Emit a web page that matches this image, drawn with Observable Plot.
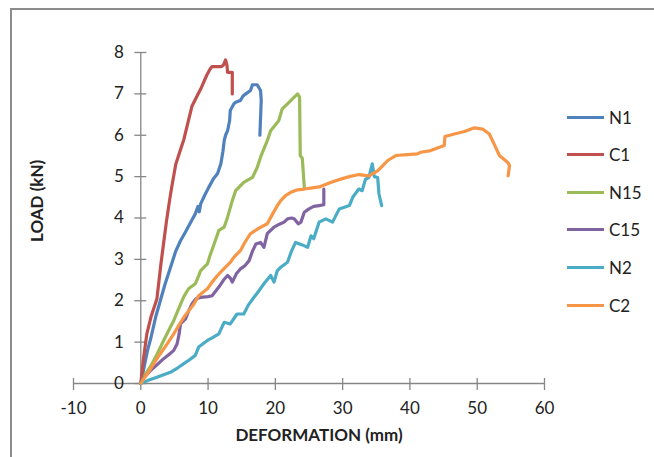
<!DOCTYPE html>
<html>
<head>
<meta charset="utf-8">
<script src="https://cdn.jsdelivr.net/npm/d3@7"></script>
<script src="https://cdn.jsdelivr.net/npm/@observablehq/plot@0.6"></script>
<style>
  html, body { margin: 0; padding: 0; background: #fff; overflow: hidden; }
  #wrap { position: relative; width: 654px; height: 457px; }
  #frame { position: absolute; left: 10px; top: 8px; width: 660px; height: 470px;
           border-left: 2px solid #8c8c8c; border-top: 2px solid #8c8c8c; pointer-events: none; }
  #legend { position: absolute; left: 567px; top: 0; font-family: Lato, sans-serif; font-size: 17px; color: #222; }
  .item { position: absolute; left: 0; display: flex; align-items: center; height: 20px; white-space: nowrap; }
  .sw { width: 37px; height: 3px; margin-right: 5px; }
</style>
</head>
<body>
<div id="wrap"><div id="chart"></div><div id="frame"></div><div id="legend"></div></div>
<script>
const xTicks = [-10, 0, 10, 20, 30, 40, 50, 60];
const yTicks = [0, 1, 2, 3, 4, 5, 6, 7, 8];
const seriesNames = ["N1", "C1", "N15", "C15", "N2", "C2"];
const seriesColors = ["#4F81BD", "#C0504D", "#9BBB59", "#8064A2", "#4BACC6", "#F79646"];

const N1 = [[0,0],[0.5,0.4],[1.0,0.8],[1.5,1.1],[2.2,1.6],[2.9,2.0],[3.6,2.4],[4.4,2.8],[5.2,3.2],[5.9,3.45],[6.6,3.65],[7.1,3.8],[7.6,3.95],[8.1,4.1],[8.5,4.28],[8.7,4.15],[8.9,4.34],[9.5,4.55],[10.1,4.74],[10.8,4.95],[11.4,5.07],[11.9,5.31],[12.2,5.6],[12.4,5.87],[12.6,6.0],[12.9,6.11],[13.2,6.35],[13.3,6.6],[13.8,6.75],[14.1,6.8],[14.8,6.84],[15.2,6.95],[15.6,7.0],[16.3,7.08],[16.6,7.22],[17.3,7.22],[17.8,7.08],[17.9,6.84],[17.7,6.0]];
const C1 = [[0,0],[0.4,0.6],[0.9,1.2],[1.5,1.6],[2.4,2.05],[3.0,2.9],[3.4,3.4],[3.8,3.9],[4.3,4.45],[4.6,4.75],[5.2,5.3],[5.8,5.6],[6.4,5.9],[7.0,6.3],[7.6,6.7],[8.4,6.96],[9.0,7.15],[9.8,7.45],[10.3,7.6],[10.6,7.66],[12.0,7.66],[12.3,7.7],[12.6,7.82],[12.8,7.7],[12.9,7.52],[13.6,7.52],[13.6,7.0]];
const N15 = [[0,0],[0.6,0.2],[1.4,0.4],[2.4,0.7],[3.4,1.04],[4.2,1.3],[4.9,1.52],[5.6,1.8],[6.4,2.1],[7.1,2.29],[8.1,2.41],[8.6,2.6],[8.9,2.73],[9.9,2.89],[10.3,3.1],[10.9,3.37],[11.6,3.7],[12.4,3.78],[12.9,4.02],[13.6,4.42],[14.1,4.66],[15.3,4.86],[16.6,4.98],[17.3,5.22],[17.8,5.47],[18.8,5.87],[19.3,6.11],[20.5,6.35],[21.0,6.63],[21.8,6.76],[22.8,6.92],[23.3,7.0],[23.6,6.92],[23.7,5.5],[24.0,5.45],[24.1,5.22],[24.3,4.74]];
const C15 = [[0,0],[0.5,0.15],[1.44,0.31],[2.4,0.45],[3.4,0.6],[4.2,0.7],[4.9,0.8],[5.4,0.96],[5.7,1.2],[5.9,1.44],[6.65,1.56],[7.1,1.75],[7.6,1.92],[8.2,2.05],[8.9,2.08],[10.0,2.1],[10.6,2.12],[11.6,2.33],[12.3,2.5],[12.9,2.61],[13.3,2.55],[13.6,2.45],[14.2,2.65],[14.8,2.77],[15.5,2.85],[16.1,2.97],[16.6,3.2],[17.1,3.37],[17.8,3.41],[18.3,3.29],[18.8,3.62],[19.8,3.78],[20.6,3.85],[21.3,3.9],[21.8,3.98],[22.4,4.0],[22.8,3.98],[23.4,3.86],[23.8,3.9],[24.3,4.14],[25.0,4.22],[25.7,4.28],[26.5,4.3],[27.2,4.32],[27.2,4.7]];
const N2 = [[0,0],[1.0,0.07],[2.4,0.15],[4.4,0.27],[5.5,0.38],[6.4,0.48],[7.3,0.58],[8.1,0.68],[8.6,0.88],[9.9,1.04],[10.8,1.12],[11.6,1.2],[12.4,1.48],[13.3,1.44],[14.3,1.68],[15.3,1.68],[16.0,1.9],[16.8,2.08],[17.6,2.25],[18.3,2.41],[19.3,2.61],[19.8,2.45],[20.3,2.73],[20.8,2.81],[21.8,2.93],[22.4,3.2],[23.0,3.41],[24.0,3.35],[24.8,3.29],[25.3,3.57],[25.7,3.5],[26.5,3.9],[27.5,3.98],[28.5,3.9],[29.5,4.22],[31.0,4.3],[31.5,4.5],[32.4,4.7],[32.9,4.66],[33.4,4.94],[33.9,4.98],[34.4,5.31],[34.7,5.0],[35.2,4.98],[35.4,4.58],[35.8,4.3]];
const C2 = [[0,0],[0.6,0.15],[1.44,0.35],[2.2,0.55],[2.9,0.72],[3.9,0.95],[4.9,1.2],[5.7,1.42],[6.4,1.6],[7.1,1.75],[7.9,1.92],[8.6,2.12],[9.9,2.29],[10.6,2.45],[11.4,2.61],[12.4,2.78],[13.3,2.93],[14.0,3.08],[14.8,3.21],[15.5,3.42],[16.3,3.62],[17.5,3.75],[18.8,3.86],[19.6,4.1],[20.3,4.3],[20.8,4.42],[21.5,4.54],[22.3,4.62],[23.3,4.68],[24.3,4.7],[25.5,4.73],[26.7,4.76],[28.2,4.86],[29.7,4.94],[31.0,5.0],[32.4,5.05],[33.9,5.02],[35.2,5.14],[36.0,5.27],[36.7,5.39],[37.9,5.51],[39.6,5.53],[41.1,5.55],[41.6,5.59],[43.1,5.63],[44.1,5.69],[45.1,5.75],[45.2,5.97],[46.6,6.03],[48.1,6.09],[49.6,6.18],[50.8,6.15],[51.8,6.03],[52.5,5.79],[53.3,5.51],[54.5,5.35],[54.8,5.27],[54.6,5.02]];

const seriesData = [N1, C1, N15, C15, N2, C2];
const rows = seriesData.flatMap((pts, i) => pts.map(([x, y]) => ({series: seriesNames[i], x, y})));

const axisColor = "#868686";
const textColor = "#222";

const chart = Plot.plot({
  width: 654,
  height: 457,
  marginLeft: 73,
  marginRight: 110,
  marginTop: 52,
  marginBottom: 74,
  style: {fontFamily: "Lato, sans-serif", fontSize: "17px", background: "transparent", color: textColor},
  x: {domain: [-10, 60], axis: null},
  y: {domain: [0, 8], axis: null},
  color: {domain: seriesNames, range: seriesColors},
  marks: [
    Plot.ruleY([0], {stroke: axisColor, strokeWidth: 1.3}),
    Plot.ruleX([0], {stroke: axisColor, strokeWidth: 1.3}),
    Plot.ruleX(xTicks, {x: d => d, y1: 0, y2: 0, insetTop: -5, insetBottom: -7, stroke: axisColor, strokeWidth: 1.3}),
    Plot.ruleY(yTicks, {y: d => d, x1: 0, x2: 0, insetLeft: -6, insetRight: -6, stroke: axisColor, strokeWidth: 1.3}),
    Plot.text(xTicks, {x: d => d, y: 0, dy: 25, text: d => String(d), fill: textColor}),
    Plot.text(yTicks, {x: 0, y: d => d, dx: -17, textAnchor: "end", text: d => String(d), fill: textColor}),
    Plot.text(["LOAD (kN)"], {frameAnchor: "left", dx: -36, dy: 24, rotate: -90, fontWeight: "bold", fontSize: 17, fill: textColor}),
    Plot.text(["DEFORMATION (mm)"], {frameAnchor: "bottom", dx: 10, dy: 57, fontWeight: "bold", fontSize: 17, fill: textColor}),
    Plot.line(rows, {x: "x", y: "y", z: "series", stroke: "series", strokeWidth: 3.2, strokeLinejoin: "round", strokeLinecap: "round"})
  ]
});
document.getElementById("chart").appendChild(chart);

const legendTops = [117, 154, 192, 229, 267, 305];
const legend = document.getElementById("legend");
seriesNames.forEach((name, i) => {
  const item = document.createElement("div");
  item.className = "item";
  item.style.top = (legendTops[i] - 10) + "px";
  const sw = document.createElement("div");
  sw.className = "sw";
  sw.style.background = seriesColors[i];
  const label = document.createElement("span");
  label.textContent = name;
  item.appendChild(sw);
  item.appendChild(label);
  legend.appendChild(item);
});
</script>
</body>
</html>
